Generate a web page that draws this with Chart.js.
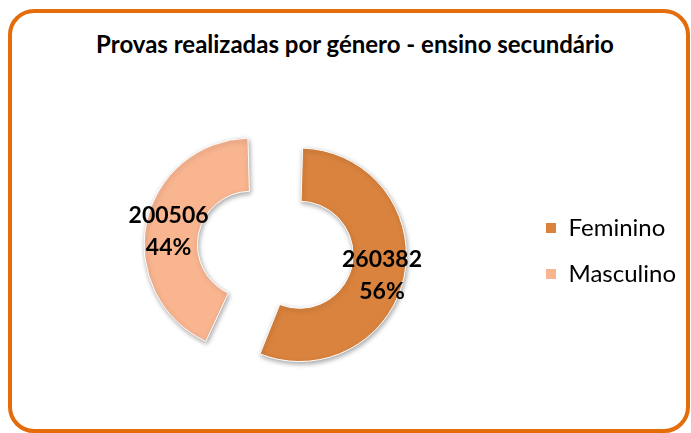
<!DOCTYPE html>
<html>
<head>
<meta charset="utf-8">
<script src="https://cdn.jsdelivr.net/npm/chart.js@4.4.1/dist/chart.umd.min.js"></script>
<style>
  html, body { margin: 0; padding: 0; background: #fff; }
  #wrap { position: relative; width: 691px; height: 433px; overflow: hidden; }
  #card { position: absolute; left: 8px; top: 9px; width: 682px; height: 424px; box-sizing: border-box;
          border: 4px solid #E46C0A; border-radius: 26px; }
  #title { position: absolute; left: 0; top: 32px; width: 710px; text-align: center;
           font: bold 24px Lato; line-height: 24px; color: #000; }
  canvas { position: absolute; left: 0; top: 0; }
</style>
</head>
<body>
<div id="wrap">
  <div id="card"></div>
  <div id="title">Provas realizadas por género - ensino secundário</div>
  <canvas id="provas" width="691" height="433"></canvas>
</div>
<script>
var categories = ['Feminino', 'Masculino'];
var provas = [260382, 200506];
var colors = ['rgb(218,131,62)', 'rgb(249,181,144)'];
var explode = [75, 124];

// sombra leve por baixo das fatias
var sliceShadow = {
    id: 'sliceShadow',
    beforeDatasetsDraw: function(chart){
        var c = chart.ctx;
        c.save();
        c.shadowColor = 'rgba(0,0,0,0.35)';
        c.shadowBlur = 5;
        c.shadowOffsetX = 1;
        c.shadowOffsetY = 2;
    },
    afterDatasetsDraw: function(chart){
        chart.ctx.restore();
    }
};

// valor + percentagem no meio de cada fatia
var sliceLabels = {
    id: 'sliceLabels',
    afterDatasetsDraw: function(chart){
        var ctx = chart.ctx;
        var meta = chart.getDatasetMeta(0);
        var total = 0;
        for (var k in provas) total += provas[k];

        ctx.save();
        ctx.font = 'bold 23px Lato';
        ctx.fillStyle = '#000';
        ctx.textAlign = 'center';
        ctx.textBaseline = 'middle';
        meta.data.forEach(function(arc, i){
            var p = arc.getProps(['x', 'y', 'startAngle', 'endAngle', 'innerRadius', 'outerRadius', 'circumference']);
            var t = (arc.options.offset || 0) / 4;
            var fix = 1 - Math.sin(Math.min(Math.PI, p.circumference));
            var r = t + (p.innerRadius + p.outerRadius) / 2 + t * fix + 4;
            var a = (p.startAngle + p.endAngle) / 2;
            var x = p.x + Math.cos(a) * r;
            var y = p.y + Math.sin(a) * r + 3;
            ctx.fillText(String(provas[i]), x, y - 15);
            ctx.fillText(Math.round(provas[i] / total * 100) + '%', x, y + 17);
        });
        ctx.restore();
    }
};

var context = document.getElementById('provas').getContext('2d');
var chart = new Chart(context, {
    type: 'doughnut',
    data: {
        labels: categories,
        datasets: [{
            data: provas,
            backgroundColor: colors,
            hoverBackgroundColor: colors,
            borderColor: '#fff',
            borderWidth: 1,
            offset: explode
        }]
    },
    plugins: [sliceShadow, sliceLabels],
    options: {
        responsive: false,
        animation: false,
        devicePixelRatio: 1,
        radius: 88,
        cutout: '39.5%',
        layout: {
            padding: { left: 39, right: 5, top: 89, bottom: 20 }
        },
        plugins: {
            tooltip: { enabled: false },
            title: { display: false },
            legend: {
                position: 'right',
                labels: {
                    boxWidth: 11,
                    boxHeight: 11,
                    padding: 22,
                    color: '#000',
                    font: { family: 'Lato', size: 24 }
                }
            }
        }
    }
});
</script>
</body>
</html>
